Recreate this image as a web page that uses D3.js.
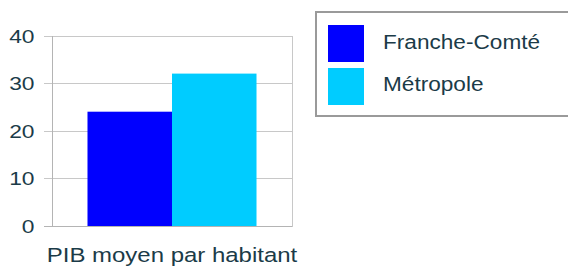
<!DOCTYPE html>
<html><head><meta charset="utf-8">
<script src="https://cdn.jsdelivr.net/npm/d3@7"></script>
<style>body{margin:0;background:#fff;}svg{display:block;font-family:"Liberation Sans",Arial,sans-serif;}</style>
</head><body>
<svg id="c" width="568" height="268"></svg>
<script>
const categories = ["PIB moyen par habitant"];
const seriesNames = ["Franche-Comté", "Métropole"];
const seriesValues = [24, 32];
const seriesColors = ["#0000ff", "#00ccff"];
const yTicks = [0, 10, 20, 30, 40];

const svg = d3.select("#c");
const textColor = "#1b3b48";
const x0 = d3.scaleBand().domain(categories).range([52, 292]).paddingInner(0).paddingOuter(0.21);
const x1 = d3.scaleBand().domain(seriesNames).range([0, x0.bandwidth()]);
const y = d3.scaleLinear().domain([0, 40]).range([226, 35.5]);

function stretchedText(parent, x, yy, txt, size, sx, anchor) {
  const gg = parent.append("g").attr("transform", `translate(${x},${yy}) scale(${sx},1)`);
  gg.append("text").attr("text-anchor", anchor).attr("font-size", size).attr("fill", textColor).text(txt);
  return gg;
}

// gridlines
svg.append("g").selectAll("line").data(yTicks).join("line")
  .attr("x1", 44).attr("x2", 292)
  .attr("y1", d => Math.round(y(d)) + 0.5).attr("y2", d => Math.round(y(d)) + 0.5)
  .attr("stroke", "#c8c8c8").attr("stroke-width", 1);
// right border
svg.append("line").attr("x1", 292.5).attr("x2", 292.5).attr("y1", Math.round(y(40))).attr("y2", Math.round(y(0)) + 1)
  .attr("stroke", "#c8c8c8");

// bars
const g = svg.append("g");
categories.forEach(cat => {
  g.selectAll("rect").data(seriesNames).join("rect")
    .attr("x", d => x0(cat) + x1(d))
    .attr("width", x1.bandwidth())
    .attr("y", (d, i) => y(seriesValues[i]))
    .attr("height", (d, i) => y(0) - y(seriesValues[i]))
    .attr("fill", (d, i) => seriesColors[i]);
});

// axis lines
svg.append("line").attr("x1", 52.5).attr("x2", 52.5).attr("y1", Math.round(y(40))).attr("y2", Math.round(y(0)) + 1)
  .attr("stroke", "#b4b4b4");
svg.append("line").attr("x1", 44).attr("x2", 292).attr("y1", Math.round(y(0)) + 0.5).attr("y2", Math.round(y(0)) + 0.5)
  .attr("stroke", "#b4b4b4");

// y tick labels
const yl = svg.append("g");
yTicks.forEach(d => stretchedText(yl, 34.5, y(d) + 7, String(d), 19, 1.2, "end"));

// category label
const xl = svg.append("g");
categories.forEach(d => stretchedText(xl, x0(d) + x0.bandwidth() / 2, 262, d, 20.5, 1.17, "middle"));

// legend
svg.append("rect").attr("x", 316).attr("y", 12).attr("width", 260).attr("height", 104)
  .attr("fill", "#fff").attr("stroke", "#9a9a9a").attr("stroke-width", 2);
const lg = svg.append("g");
seriesNames.forEach((d, i) => {
  const yy = 25 + i * 43;
  lg.append("rect").attr("x", 328).attr("y", yy).attr("width", 36).attr("height", 37).attr("fill", seriesColors[i]);
  stretchedText(lg, 383, [49, 90.5][i], d, 19.5, 1.16, "start");
});
</script>
</body></html>
